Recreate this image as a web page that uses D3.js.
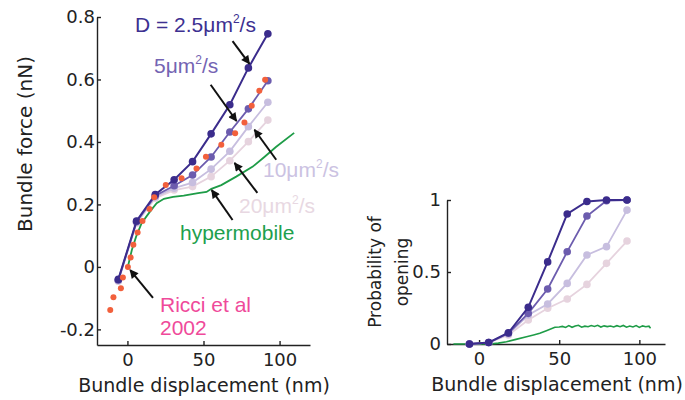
<!DOCTYPE html>
<html>
<head>
<meta charset="utf-8">
<script src="https://cdn.jsdelivr.net/npm/d3@7"></script>
<style>
  body { margin: 0; background: #fff; }
  svg { display: block; }
  .axis text { font-family: "DejaVu Sans", sans-serif; font-size: 18px; fill: #222; }
  .axis path, .axis line { stroke: #222; stroke-width: 1.4; }
  .axis-label { font-family: "DejaVu Sans", sans-serif; font-size: 19px; fill: #222; }
  .ann { font-family: "Liberation Sans", Arial, sans-serif; font-size: 21px; }
</style>
</head>
<body>
<svg id="chart" width="685" height="400"></svg>
<script>
// displacement samples of the model curves (nm)
const modelX = [-6, 6, 18.3, 30.7, 42.8, 55, 67.3, 79.5, 92.3];

// bundle force (nN) for each diffusion coefficient
const forceD25 = [-0.04, 0.147, 0.232, 0.279, 0.337, 0.426, 0.519, 0.637, 0.746];
const forceD5 = [-0.042, 0.145, 0.228, 0.26, 0.294, 0.352, 0.432, 0.506, 0.596];
const forceD10 = [-0.044, 0.143, 0.224, 0.252, 0.27, 0.313, 0.37, 0.449, 0.527];
const forceD20 = [-0.046, 0.14, 0.22, 0.246, 0.257, 0.289, 0.34, 0.401, 0.47];

// open probability for each diffusion coefficient
const probD25 = [0, 0.01, 0.078, 0.255, 0.57, 0.903, 0.99, 1.0, 1.0];
const probD5 = [0, 0.01, 0.075, 0.213, 0.382, 0.641, 0.889, 0.995, 1.0];
const probD10 = [0, 0.01, 0.07, 0.201, 0.278, 0.421, 0.618, 0.676, 0.93];
const probD20 = [0, 0.01, 0.062, 0.167, 0.248, 0.312, 0.414, 0.56, 0.715];

// hypermobile curve (force panel)
const hyperX = [0, 2.9, 5.7, 9.4, 14.8, 19.2, 24, 30, 37, 46.4, 52, 55.2, 61.7, 71.5, 82.4, 90, 97.6, 109.6];
const hyperF = [-0.005, 0.054, 0.097, 0.141, 0.177, 0.204, 0.218, 0.224, 0.228, 0.236, 0.24, 0.25, 0.262, 0.289, 0.321, 0.352, 0.384, 0.429];

// hypermobile curve (probability panel)
const hyperPX = [-16, -10, 0, 6.7, 12, 17.1, 23, 29.6, 34, 37.9, 42, 47.3, 50, 52, 54, 56, 58, 60, 62, 64, 66, 68, 70, 72, 74, 76, 78, 80, 82, 84, 86, 88, 90, 92, 94, 96, 98, 100, 102, 104, 106, 107];
const hyperP = [0, 0, 0, 0, 0.006, 0.016, 0.032, 0.051, 0.063, 0.074, 0.092, 0.116, 0.118, 0.122, 0.115, 0.128, 0.116, 0.125, 0.13, 0.117, 0.124, 0.12, 0.128, 0.122, 0.13, 0.118, 0.126, 0.121, 0.125, 0.118, 0.127, 0.12, 0.129, 0.117, 0.125, 0.118, 0.128, 0.115, 0.126, 0.12, 0.124, 0.11];

// Ricci et al 2002 measurements
const ricciX = [-11.3, -9.2, -4.3, -3.0, 0.3, 2.1, 3.9, 6.7, 9.9, 14.5, 17.6, 25.2, 35.6, 45.4, 51.6, 61.7, 70.8, 76.9, 81.7, 86.7, 90.5];
const ricciF = [-0.138, -0.097, -0.068, -0.034, 0.0, 0.03, 0.071, 0.11, 0.147, 0.185, 0.223, 0.262, 0.284, 0.315, 0.353, 0.391, 0.428, 0.462, 0.516, 0.564, 0.599];

// ticks
const forceTicks = [-0.2, 0, 0.2, 0.4, 0.6, 0.8];
const forceTickLabels = ['-0.2', '0', '0.2', '0.4', '0.6', '0.8'];
const dispTicks = [0, 50, 100];
const dispTickLabels = ['0', '50', '100'];
const probTicks = [0, 0.5, 1];
const probTickLabels = ['0', '0.5', '1'];

// annotation arrows [x0, y0, x1, y1] in force-panel data units
const arrows = [
  [69.1, 0.723, 80.2, 0.65],
  [54.7, 0.583, 71.7, 0.467],
  [97.8, 0.343, 83.5, 0.439],
  [85.4, 0.237, 70.4, 0.333],
  [69.1, 0.15, 55.4, 0.246],
  [16.8, -0.099, 1.8, -0.01]
];

const colors = { d25: '#3b2c8c', d5: '#6c5cae', d10: '#c7bedf', d20: '#e6d3de', hyper: '#1e9c47', ricci: '#f2603c' };

const svg = d3.select('#chart');

// arrowhead
svg.append('defs').append('marker')
    .attr('id', 'head')
    .attr('viewBox', '0 0 10 10')
    .attr('refX', 9).attr('refY', 5)
    .attr('markerWidth', 5).attr('markerHeight', 4.4)
    .attr('markerUnits', 'strokeWidth')
    .attr('orient', 'auto')
  .append('path')
    .attr('d', 'M0,0L10,5L0,10z')
    .attr('fill', '#111');

// ---------- left panel: bundle force ----------
const xF = d3.scaleLinear().domain([-20, 120]).range([97, 310]);
const yF = d3.scaleLinear().domain([-0.25, 0.8]).range([345, 17]);

const gF = svg.append('g');

gF.append('g').attr('class', 'axis')
    .attr('transform', 'translate(97,0)')
    .call(d3.axisLeft(yF).tickValues(forceTicks)
      .tickFormat((d, i) => forceTickLabels[i])
      .tickSizeInner(-4).tickSizeOuter(0).tickPadding(2));

gF.append('g').attr('class', 'axis')
    .attr('transform', 'translate(0,345)')
    .call(d3.axisBottom(xF).tickValues(dispTicks)
      .tickFormat((d, i) => dispTickLabels[i])
      .tickSizeInner(-4).tickSizeOuter(0).tickPadding(8));

gF.append('text').attr('class', 'axis-label')
    .attr('transform', 'translate(32,144) rotate(-90)')
    .attr('text-anchor', 'middle')
    .style('font-size', '20px')
    .text('Bundle force (nN)');

gF.append('text').attr('class', 'axis-label')
    .attr('x', 204).attr('y', 392)
    .attr('text-anchor', 'middle')
    .text('Bundle displacement (nm)');

const forceSeries = [
  { vals: forceD20, color: colors.d20, w: 1.8 },
  { vals: forceD10, color: colors.d10, w: 1.8 },
  { vals: forceD5, color: colors.d5, w: 1.8 },
  { vals: forceD25, color: colors.d25, w: 2 }
];

const lineF = d3.line().x(d => xF(d[0])).y(d => yF(d[1]));

forceSeries.forEach(s => {
  const pts = modelX.map((x, i) => [x, s.vals[i]]);
  gF.append('path')
      .attr('d', lineF(pts))
      .attr('fill', 'none')
      .attr('stroke', s.color)
      .attr('stroke-width', s.w);
  gF.selectAll(null).data(pts).join('circle')
      .attr('cx', d => xF(d[0]))
      .attr('cy', d => yF(d[1]))
      .attr('r', 3.8)
      .attr('fill', s.color);
});

gF.append('path')
    .attr('d', lineF(hyperX.map((x, i) => [x, hyperF[i]])))
    .attr('fill', 'none')
    .attr('stroke', colors.hyper)
    .attr('stroke-width', 1.8);

gF.selectAll('.ricci').data(ricciX.map((x, i) => [x, ricciF[i]])).join('circle')
    .attr('class', 'ricci')
    .attr('cx', d => xF(d[0]))
    .attr('cy', d => yF(d[1]))
    .attr('r', 3)
    .attr('fill', colors.ricci);

gF.selectAll('.arrow').data(arrows).join('line')
    .attr('class', 'arrow')
    .attr('x1', d => xF(d[0])).attr('y1', d => yF(d[1]))
    .attr('x2', d => xF(d[2])).attr('y2', d => yF(d[3]))
    .attr('stroke', '#111')
    .attr('stroke-width', 2)
    .attr('marker-end', 'url(#head)');

// labels with superscript units
function unitLabel(x, y, lead, color) {
  const t = gF.append('text').attr('class', 'ann')
      .attr('x', x).attr('y', y).attr('fill', color);
  t.append('tspan').text(lead + 'μm');
  t.append('tspan').attr('dy', -9).style('font-size', '12px').text('2');
  t.append('tspan').attr('dy', 9).text('/s');
}
unitLabel(135, 32, 'D = 2.5', '#3d3091');
unitLabel(154, 73, '5', '#7464b3');
unitLabel(263, 177, '10', '#cbc2e2');
unitLabel(239, 213, '20', '#e8d8e2');

gF.append('text').attr('class', 'ann')
    .attr('x', 180).attr('y', 240).attr('fill', '#1ea04d')
    .text('hypermobile');
gF.append('text').attr('class', 'ann')
    .attr('x', 160).attr('y', 312).attr('fill', '#ef4a9a')
    .text('Ricci et al');
gF.append('text').attr('class', 'ann')
    .attr('x', 160).attr('y', 335).attr('fill', '#ef4a9a')
    .text('2002');

// ---------- right panel: open probability ----------
const xP = d3.scaleLinear().domain([-20, 116]).range([447, 665]);
const yP = d3.scaleLinear().domain([0, 1]).range([344, 200]);

const gP = svg.append('g');

gP.append('g').attr('class', 'axis')
    .attr('transform', 'translate(447,0)')
    .call(d3.axisLeft(yP).tickValues(probTicks)
      .tickFormat((d, i) => probTickLabels[i])
      .tickSizeInner(-4).tickSizeOuter(0).tickPadding(6));

gP.append('g').attr('class', 'axis')
    .attr('transform', 'translate(0,344)')
    .call(d3.axisBottom(xP).tickValues(dispTicks)
      .tickFormat((d, i) => dispTickLabels[i])
      .tickSizeInner(-4).tickSizeOuter(0).tickPadding(8));

gP.append('text').attr('class', 'axis-label')
    .attr('transform', 'translate(381,272) rotate(-90)')
    .attr('text-anchor', 'middle')
    .style('font-size', '17px')
    .text('Probability of');
gP.append('text').attr('class', 'axis-label')
    .attr('transform', 'translate(408,272) rotate(-90)')
    .attr('text-anchor', 'middle')
    .style('font-size', '17px')
    .text('opening');

gP.append('text').attr('class', 'axis-label')
    .attr('x', 557).attr('y', 391)
    .attr('text-anchor', 'middle')
    .text('Bundle displacement (nm)');

const lineP = d3.line().x(d => xP(d[0])).y(d => yP(d[1]));

gP.append('path')
    .attr('d', lineP(hyperPX.map((x, i) => [x, hyperP[i]])))
    .attr('fill', 'none')
    .attr('stroke', colors.hyper)
    .attr('stroke-width', 1.6);

const probSeries = [
  { vals: probD20, color: colors.d20, w: 1.8 },
  { vals: probD10, color: colors.d10, w: 1.8 },
  { vals: probD5, color: colors.d5, w: 1.8 },
  { vals: probD25, color: colors.d25, w: 2 }
];

probSeries.forEach(s => {
  const pts = modelX.map((x, i) => [x, s.vals[i]]);
  gP.append('path')
      .attr('d', lineP(pts))
      .attr('fill', 'none')
      .attr('stroke', s.color)
      .attr('stroke-width', s.w);
  gP.selectAll(null).data(pts).join('circle')
      .attr('cx', d => xP(d[0]))
      .attr('cy', d => yP(d[1]))
      .attr('r', 3.8)
      .attr('fill', s.color);
});
</script>
</body>
</html>
